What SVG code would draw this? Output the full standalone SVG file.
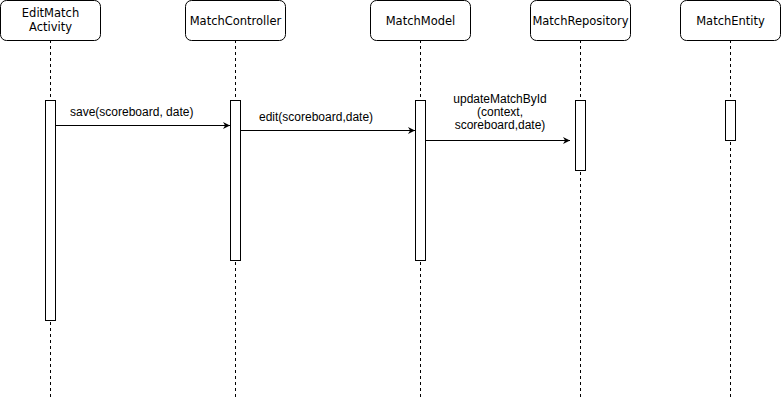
<svg xmlns="http://www.w3.org/2000/svg" width="781" height="401" viewBox="0 0 781 401">
<defs>
<style>
.box{fill:#fff;stroke:#000;stroke-width:1}
.life{stroke:#000;stroke-width:1;stroke-dasharray:3 3;fill:none}
.act{fill:#fff;stroke:#000;stroke-width:1}
.msg{stroke:#000;stroke-width:1;fill:none;marker-end:url(#arr)}
.t{font-family:"DejaVu Sans",sans-serif;font-size:11.5px;fill:#000;text-anchor:middle}
.m{font-family:"Liberation Sans",Arial,sans-serif;font-size:12px;fill:#000}
</style>
<marker id="arr" viewBox="0 0 10 10" refX="10" refY="5" markerWidth="7" markerHeight="7" markerUnits="userSpaceOnUse" orient="auto">
<path d="M0,0 L10,5 L0,10 L3,5 Z" fill="#000"/>
</marker>
</defs>
<rect width="781" height="401" fill="#fff"/>
<g id="editmatch">
<line class="life" x1="50.5" y1="40" x2="50.5" y2="400"/>
<rect class="box" x="0.5" y="0.5" width="100" height="40" rx="6"/>
<text class="t" x="50.5" y="16.5">EditMatch</text>
<text class="t" x="50.5" y="30.5">Activity</text>
<rect class="act" x="45.5" y="100.5" width="10" height="220"/>
</g>
<g id="controller">
<line class="life" x1="235.5" y1="40" x2="235.5" y2="400"/>
<rect class="box" x="185.5" y="0.5" width="100" height="40" rx="6"/>
<text class="t" x="235.5" y="24.5">MatchController</text>
<rect class="act" x="230.5" y="100.5" width="10" height="160"/>
</g>
<g id="model">
<line class="life" x1="420.5" y1="40" x2="420.5" y2="400"/>
<rect class="box" x="370.5" y="0.5" width="100" height="40" rx="6"/>
<text class="t" x="420.5" y="24.5">MatchModel</text>
<rect class="act" x="415.5" y="100.5" width="10" height="160"/>
</g>
<g id="repository">
<line class="life" x1="580.5" y1="40" x2="580.5" y2="400"/>
<rect class="box" x="530.5" y="0.5" width="100" height="40" rx="6"/>
<text class="t" x="580.5" y="24.5">MatchRepository</text>
<rect class="act" x="575.5" y="100.5" width="10" height="70"/>
</g>
<g id="entity">
<line class="life" x1="730.5" y1="40" x2="730.5" y2="400"/>
<rect class="box" x="680.5" y="0.5" width="100" height="40" rx="6"/>
<text class="t" x="730.5" y="24.5">MatchEntity</text>
<rect class="act" x="725.5" y="100.5" width="10" height="40"/>
</g>
<g id="connectors">
<line class="msg" x1="55.5" y1="125.5" x2="230" y2="125.5"/>
<text class="m" x="70" y="116">save(scoreboard, date)</text>
<line class="msg" x1="240.5" y1="130.5" x2="415" y2="130.5"/>
<text class="m" x="259" y="121">edit(scoreboard,date)</text>
<line class="msg" x1="425.5" y1="140.5" x2="570" y2="140.5"/>
<text class="m" x="500" y="103" text-anchor="middle">updateMatchById</text>
<text class="m" x="500" y="116" text-anchor="middle">(context,</text>
<text class="m" x="500" y="129" text-anchor="middle">scoreboard,date)</text>
</g>
</svg>
